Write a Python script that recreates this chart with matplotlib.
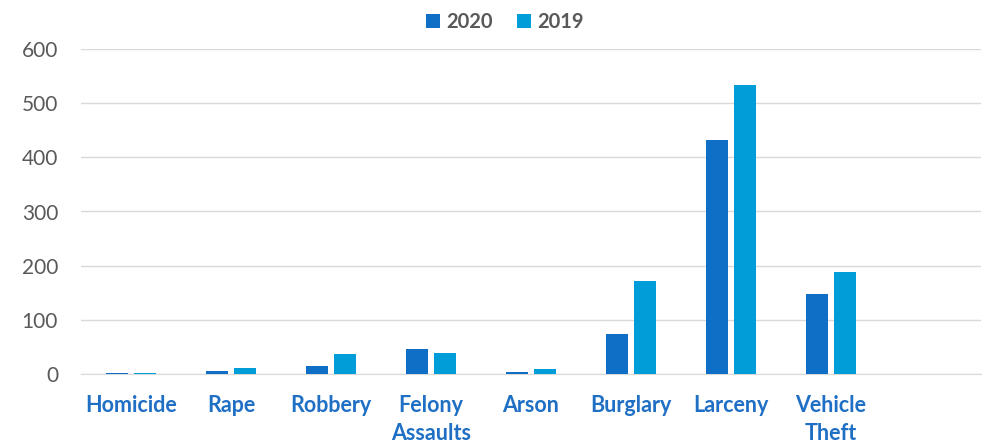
import numpy as np
import matplotlib.pyplot as plt

categories = ["Homicide", "Rape", "Robbery", "Felony\nAssaults", "Arson",
              "Burglary", "Larceny", "Vehicle\nTheft", ""]
vals_2020 = [1, 5, 14, 47, 3, 74, 432, 147, 0]
vals_2019 = [1, 12, 37, 38, 9, 172, 533, 188, 0]
yticks = [0, 100, 200, 300, 400, 500, 600]

plt.rcParams['font.family'] = ['Lato', 'DejaVu Sans']

fig = plt.figure(figsize=(9.95, 4.44), dpi=100)
ax = fig.add_axes([81 / 995, 1 - 374 / 444, 900 / 995, 325 / 444])

x = np.arange(len(categories))
w = 0.22
ax.bar(x - 0.14, vals_2020, w, color="#0F6FC6", label="2020", zorder=3)
ax.bar(x + 0.14, vals_2019, w, color="#009DD9", label="2019", zorder=3)

ax.set_xlim(-0.5, len(categories) - 0.5)
ax.set_ylim(0, 600)
ax.set_yticks(yticks)
ax.set_yticklabels([str(v) for v in yticks], fontsize=15, color="#595959")
ax.set_xticks(x)
ax.set_xticklabels(categories, fontsize=15.5, fontweight="bold", color="#1F6FC5",
                   linespacing=1.45, va="top")
ax.tick_params(axis="both", length=0)
ax.tick_params(axis="y", pad=16.5)
ax.tick_params(axis="x", pad=15)
ax.grid(axis="y", color="#D9D9D9", linewidth=1, zorder=0)
for s in ["top", "right", "left"]:
    ax.spines[s].set_visible(False)
ax.spines["bottom"].set_color("#D9D9D9")

leg = fig.legend(loc="center", bbox_to_anchor=(505 / 995, 1 - 22 / 444), ncol=2,
                 frameon=False, handlelength=0.7, handleheight=0.7,
                 columnspacing=1.2, handletextpad=0.3,
                 prop={"weight": "bold", "size": 14.5})
for t in leg.get_texts():
    t.set_color("#595959")

fig.savefig("out.png", dpi=100)
